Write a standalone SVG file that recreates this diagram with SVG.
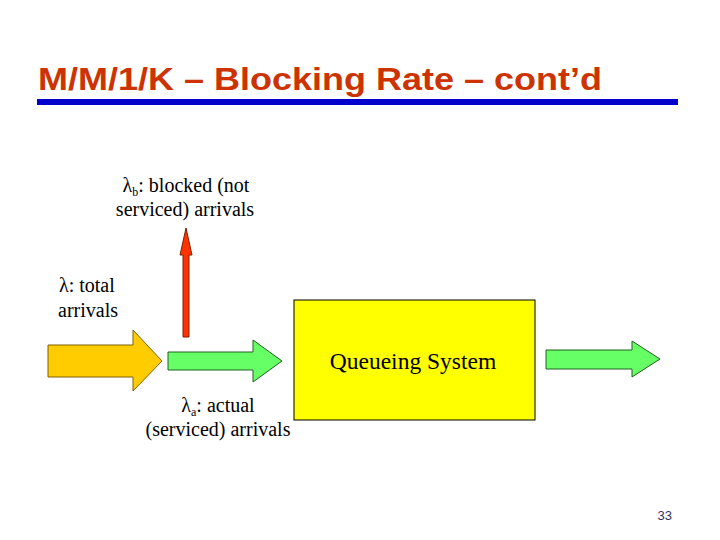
<svg xmlns="http://www.w3.org/2000/svg" width="720" height="540" viewBox="0 0 720 540">
<style>
.t{font-family:"Liberation Serif","Times New Roman",serif;font-size:20px;fill:#000}
.sub{font-size:12px}
.title{font-family:"Liberation Sans",Arial,sans-serif;font-size:32px;font-weight:bold;fill:#CC3300}
</style>
<rect width="720" height="540" fill="#fff"/>
<text class="title" x="38" y="90" textLength="564" lengthAdjust="spacingAndGlyphs">M/M/1/K – Blocking Rate – cont’d</text>
<rect x="37" y="99" width="641" height="6" fill="#0000CC"/>
<g id="connectors">
<polygon id="arrow-total" points="48,345 133,345 133,330 162,361 133,391 133,377 48,377" fill="#FFCC00" stroke="#806000" stroke-width="1"/>
<polygon id="arrow-actual" points="168,352 253,352 253,340 282,361 253,382 253,370 168,370" fill="#66FF66" stroke="#206020" stroke-width="1"/>
<polygon id="arrow-blocked" points="183,337 183,255 180,255 186,228 192,255 189,255 189,337" fill="#FF3300" stroke="#802000" stroke-width="1"/>
<polygon id="arrow-out" points="546,350 632,350 632,341 660,359 632,377 632,369 546,369" fill="#66FF66" stroke="#206020" stroke-width="1"/>
</g>
<g id="queue">
<rect x="294" y="300" width="241" height="120" fill="#FFFF00" stroke="#000" stroke-width="1"/>
<text class="t" x="413" y="369" text-anchor="middle" style="font-size:23.5px">Queueing System</text>
</g>
<g id="label-blocked">
<text class="t" x="186" y="192" text-anchor="middle">λ<tspan class="sub" dy="4">b</tspan><tspan dy="-4">: blocked (not</tspan></text>
<text class="t" x="185" y="216" text-anchor="middle">serviced) arrivals</text>
</g>
<g id="label-total">
<text class="t" x="59" y="292">λ: total</text>
<text class="t" x="58" y="317">arrivals</text>
</g>
<g id="label-actual">
<text class="t" x="218" y="412" text-anchor="middle">λ<tspan class="sub" dy="4">a</tspan><tspan dy="-4">: actual</tspan></text>
<text class="t" x="218" y="436" text-anchor="middle">(serviced) arrivals</text>
</g>
<text x="672" y="520" text-anchor="end" font-family="'Liberation Sans',Arial,sans-serif" font-size="13" fill="#333366">33</text>
</svg>
